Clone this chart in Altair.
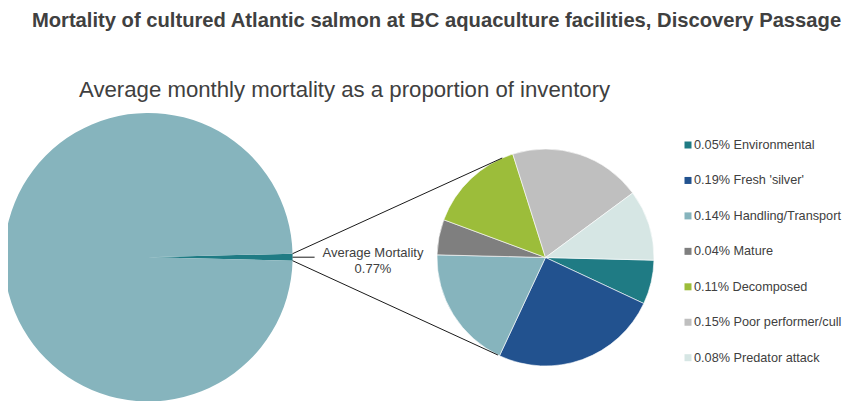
import math
import altair as alt
import pandas as pd

# ---------------- data ----------------
title_text = "Mortality of cultured Atlantic salmon at BC aquaculture facilities, Discovery Passage"
subtitle_text = "Average monthly mortality as a proportion of inventory"

causes = ["Environmental", "Fresh 'silver'", "Handling/Transport", "Mature",
          "Decomposed", "Poor performer/cull", "Predator attack"]
cause_pct = [0.05, 0.19, 0.14, 0.04, 0.11, 0.15, 0.08]
cause_colors = ["#1F7B84", "#22528F", "#86B4BD", "#7F7F7F",
                "#9CBD3A", "#BFBFBF", "#D6E6E4"]

main_labels = ["Average Mortality", "Remaining inventory"]
main_pct = [0.77, 99.23]
main_colors = ["#1F7B84", "#86B4BD"]

# ---------------- layout ----------------
W, H = 839, 393
TXT = "#404040"
FONT = "Liberation Sans"

big_cx, big_cy, big_r = 140.3, 249.2, 144.3
small_cx, small_cy, small_r = 537.5, 249.5, 108.5
small_start_deg = 91.4
conn_top_deg, conn_bot_deg = 336.5, 206.0


def pt(cx, cy, r, deg):
    a = math.radians(deg)
    return cx + r * math.sin(a), cy - r * math.cos(a)


# big pie: mortality wedge centred at 3 o'clock
wedge_deg = main_pct[0] / sum(main_pct) * 360
big_start = math.radians(90 - wedge_deg / 2)

big_df = pd.DataFrame({"label": main_labels, "pct": main_pct, "ord": [0, 1]})
small_df = pd.DataFrame({"cause": causes, "pct": cause_pct, "ord": list(range(len(causes)))})

legend_labels = [f"{p:.2f}% {c}" for p, c in zip(cause_pct, causes)]
legend_df = pd.DataFrame({"label": legend_labels, "cause": causes})

# connector lines (derived from pie geometry)
bt = pt(big_cx, big_cy, big_r, 90 - wedge_deg / 2)
bb = pt(big_cx, big_cy, big_r, 90 + wedge_deg / 2)
st = pt(small_cx, small_cy, small_r, conn_top_deg)
sb = pt(small_cx, small_cy, small_r, conn_bot_deg)
bm = pt(big_cx, big_cy, big_r, 90)
lines_df = pd.DataFrame({
    "x": [bt[0], bb[0], bm[0]],
    "y": [bt[1], bb[1], bm[1]],
    "x2": [st[0], sb[0], bm[0] + 22],
    "y2": [st[1], sb[1], bm[1]],
})

label_df = pd.DataFrame({"t": [f"{main_labels[0]}\n{main_pct[0]:.2f}%"]})

# ---------------- layers ----------------
big_pie = alt.Chart(big_df).mark_arc(radius=big_r).encode(
    theta=alt.Theta("pct:Q", stack=True,
                    scale=alt.Scale(range=[big_start, big_start + 2 * math.pi])),
    color=alt.Color("label:N", scale=alt.Scale(domain=main_labels, range=main_colors), legend=None),
    order=alt.Order("ord:Q"),
    x=alt.value(big_cx),
    y=alt.value(big_cy),
)

s0 = math.radians(small_start_deg)
small_pie = alt.Chart(small_df).mark_arc(radius=small_r, stroke="white", strokeWidth=0.6).encode(
    theta=alt.Theta("pct:Q", stack=True,
                    scale=alt.Scale(range=[s0, s0 + 2 * math.pi])),
    color=alt.Color("cause:N", scale=alt.Scale(domain=causes, range=cause_colors), legend=None),
    order=alt.Order("ord:Q"),
    x=alt.value(small_cx),
    y=alt.value(small_cy),
)

lines = alt.Chart(lines_df).mark_rule(color="#000000", strokeWidth=0.9).encode(
    x=alt.X("x:Q", scale=None), y=alt.Y("y:Q", scale=None),
    x2="x2:Q", y2="y2:Q",
)

mort_label = alt.Chart(label_df).mark_text(
    lineBreak="\n", align="center", baseline="alphabetic",
    font=FONT, fontSize=13, lineHeight=16, color=TXT,
).encode(text="t:N", x=alt.value(365), y=alt.value(249))

leg_y = alt.Y("label:N", sort=legend_labels, axis=None,
              scale=alt.Scale(type="point", range=[137, 137 + 6 * 35.45], padding=0))

leg_sq = alt.Chart(legend_df).mark_square(size=49, opacity=1).encode(
    y=leg_y, x=alt.value(680),
    color=alt.Color("cause:N", scale=alt.Scale(domain=causes, range=cause_colors), legend=None),
)
leg_txt = alt.Chart(legend_df).mark_text(
    align="left", baseline="middle", font=FONT, fontSize=12.7, color=TXT,
).encode(y=leg_y, x=alt.value(686), text="label:N")

title = alt.Chart(pd.DataFrame({"t": [title_text]})).mark_text(
    align="center", baseline="alphabetic", font=FONT, fontSize=20.2,
    fontWeight="bold", color=TXT,
).encode(text="t:N", x=alt.value(428.5), y=alt.value(18.7))

subtitle = alt.Chart(pd.DataFrame({"t": [subtitle_text]})).mark_text(
    align="left", baseline="alphabetic", font=FONT, fontSize=22.2, color=TXT,
).encode(text="t:N", x=alt.value(71), y=alt.value(89.3))

chart = alt.layer(
    big_pie, small_pie, lines, mort_label, leg_sq, leg_txt, title, subtitle
).resolve_scale(
    theta="independent", color="independent", x="independent", y="independent"
).properties(
    width=W, height=H, autosize=alt.AutoSizeParams(type="none"), padding=0,
    background="white",
).configure_view(stroke=None)

chart.save("out.html", embed_options={"renderer": "svg", "actions": False})
